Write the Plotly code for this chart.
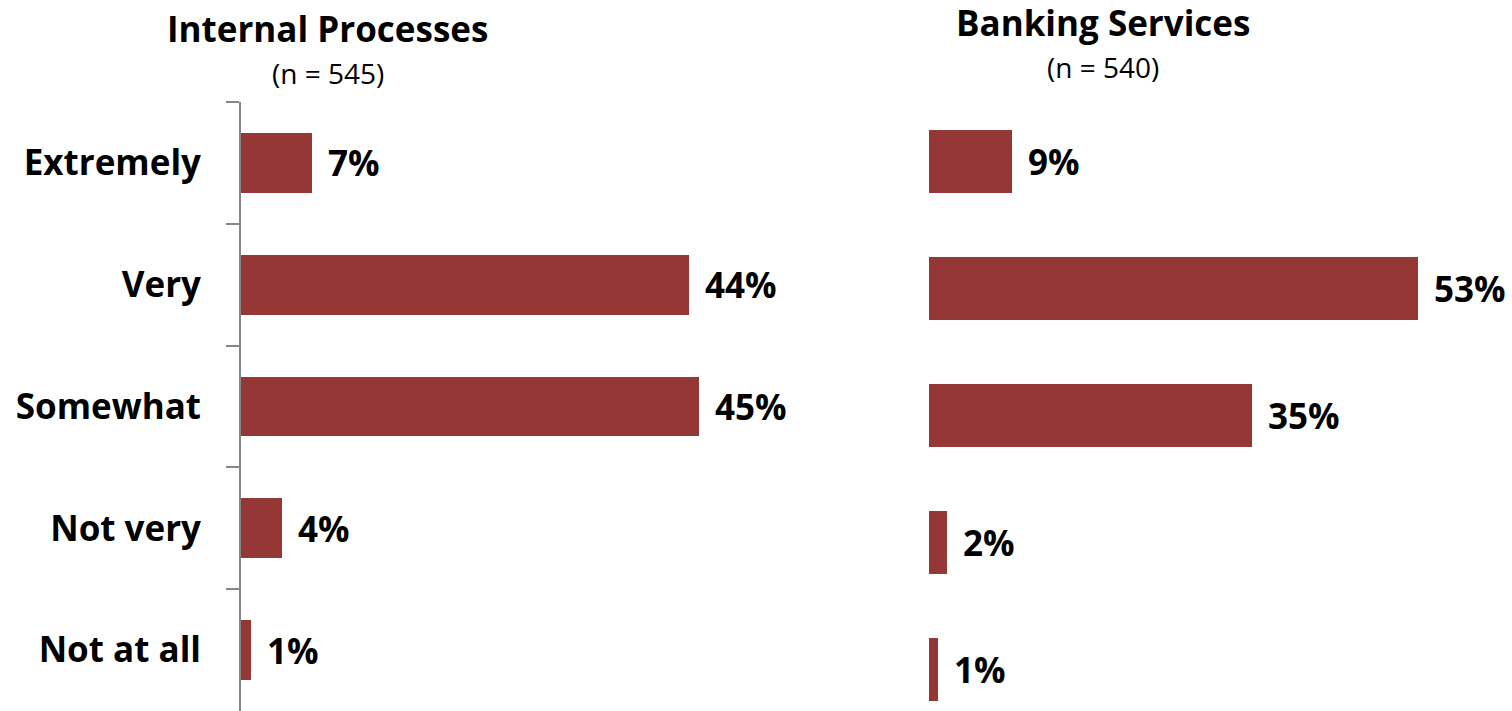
import plotly.graph_objects as go

categories = ["Extremely", "Very", "Somewhat", "Not very", "Not at all"]
internal_pct = [7, 44, 45, 4, 1]
banking_pct = [9, 53, 35, 2, 1]
titles = ["Internal Processes", "Banking Services"]
subtitles = ["(n = 545)", "(n = 540)"]

W, H = 1512, 711
BAR = "#953735"
FONT = "Open Sans"


def px_x(p):
    return p / W


def px_y(p):
    return 1 - p / H


fig = go.Figure()

fig.add_trace(go.Bar(
    x=internal_pct, y=categories, orientation="h",
    marker=dict(color=BAR, line=dict(width=0)),
    width=0.49, xaxis="x", yaxis="y", showlegend=False, hoverinfo="skip",
))
fig.add_trace(go.Bar(
    x=banking_pct, y=categories, orientation="h",
    marker=dict(color=BAR, line=dict(width=0)),
    width=0.496, xaxis="x2", yaxis="y2", showlegend=False, hoverinfo="skip",
))

annotations = []
for axis_x, axis_y, vals in (("x", "y", internal_pct), ("x2", "y2", banking_pct)):
    for cat, v in zip(categories, vals):
        annotations.append(dict(
            x=v, y=cat, xref=axis_x, yref=axis_y, text=f"<b>{v}%</b>",
            showarrow=False, xanchor="left", yanchor="middle", xshift=14,
            font=dict(family=FONT, size=35, color="black"),
        ))

# panel headings
for cx, ty, sy, t, s in ((327.5, 28, 73, titles[0], subtitles[0]),
                          (1102.5, 22, 67, titles[1], subtitles[1])):
    annotations.append(dict(
        x=px_x(cx), y=px_y(ty), xref="paper", yref="paper", text=f"<b>{t}</b>",
        showarrow=False, xanchor="center", yanchor="middle",
        font=dict(family=FONT, size=35, color="black"),
    ))
    annotations.append(dict(
        x=px_x(cx), y=px_y(sy), xref="paper", yref="paper", text=s,
        showarrow=False, xanchor="center", yanchor="middle",
        font=dict(family=FONT, size=28, color="black"),
    ))

fig.update_layout(
    width=W, height=H,
    margin=dict(l=0, r=0, t=0, b=0),
    paper_bgcolor="white", plot_bgcolor="white",
    bargap=0,
    annotations=annotations,
    xaxis=dict(
        domain=[px_x(241), px_x(241 + 10.18 * 50)], range=[0, 50],
        showgrid=False, zeroline=False, showticklabels=False, ticks="",
        showline=False,
    ),
    yaxis=dict(
        domain=[0, px_y(102)], range=[4.5, -0.5], type="category",
        showgrid=False, zeroline=False,
        showline=True, linecolor="#868686", linewidth=2,
        ticks="outside", ticklen=13, tickcolor="#868686", tickwidth=2,
        tickson="boundaries", ticklabelstandoff=31,
        tickfont=dict(family=FONT, size=35, color="black", weight="bold"),
        anchor="x",
    ),
    xaxis2=dict(
        domain=[px_x(929), px_x(929 + 9.22 * 55)], range=[0, 55],
        showgrid=False, zeroline=False, showticklabels=False, ticks="",
        showline=False, anchor="y2",
    ),
    yaxis2=dict(
        domain=[0, px_y(98)], range=[4.327, -0.5], type="category",
        showgrid=False, zeroline=False, showline=False,
        showticklabels=False, ticks="", anchor="x2",
    ),
)

fig.write_html("out.html")
